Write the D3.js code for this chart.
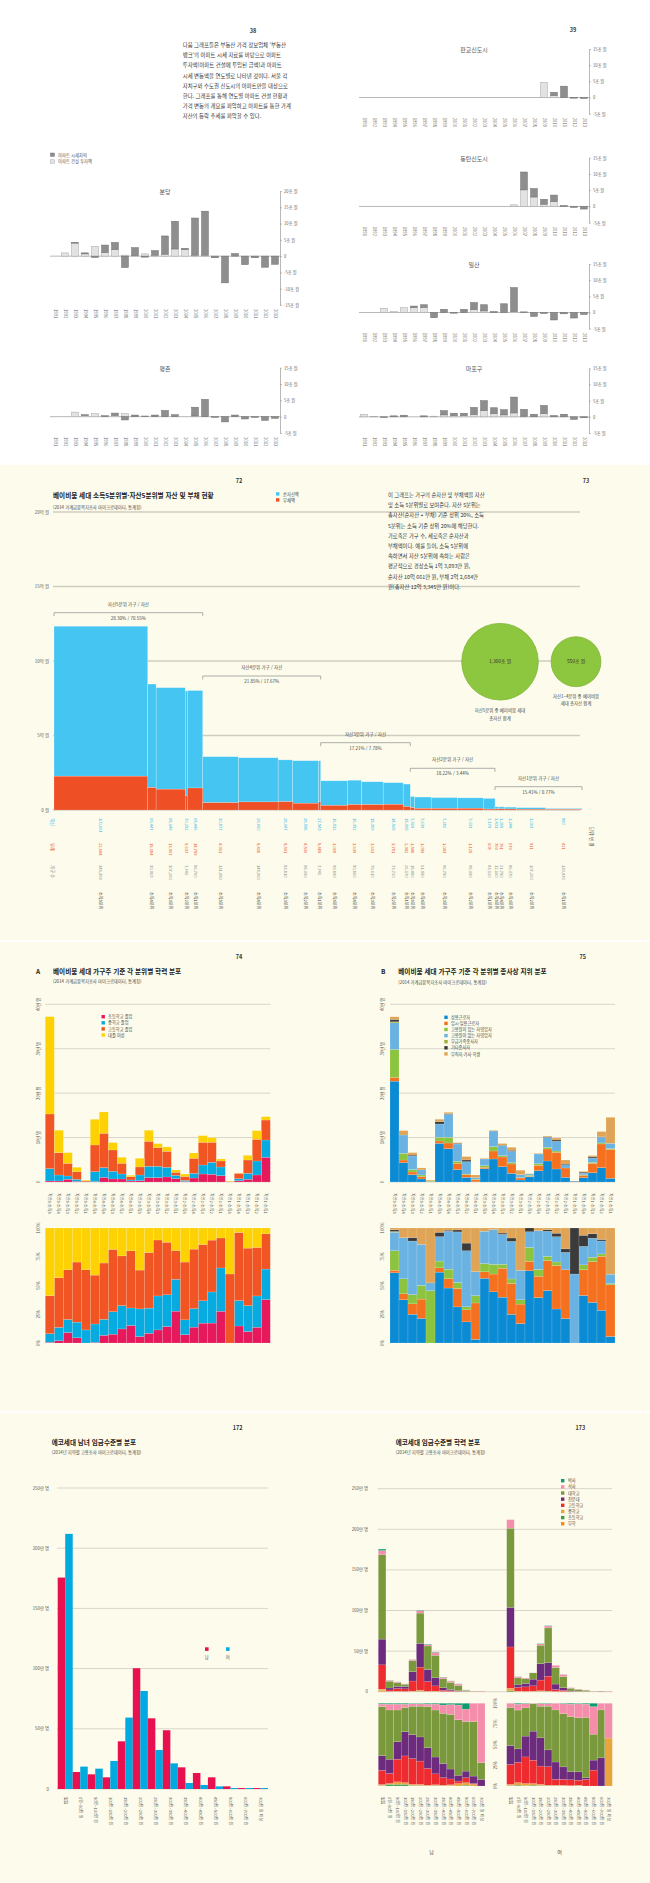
<!DOCTYPE html>
<html lang="ko">
<head>
<meta charset="utf-8">
<title>베이비붐·에코세대 자산 및 소득 차트</title>
<script src="https://cdnjs.cloudflare.com/ajax/libs/d3/7.8.5/d3.min.js"></script>
<style>
  html, body { margin: 0; padding: 0; background: #fff; }
  svg { display: block; }
  text { font-family: "Noto Sans CJK KR", "Noto Sans", sans-serif; }
</style>
</head>
<body>
<svg id="chart" width="650" height="1883" viewBox="0 0 650 1883"></svg>
<script>
// ---------------- data ----------------

// p.38-39 : apartment construction investment / price change by year (조 원)
var years = ["1991","1992","1993","1994","1995","1996","1997","1998","1999","2000","2001","2002",
             "2003","2004","2005","2006","2007","2008","2009","2010","2011","2012","2013"];
var bundangInvest = [0,1.0,4.0,0.7,3.0,1.1,2.0,0.3,0.2,0.7,0.3,0.6,2.2,2.0,0.3,0.3,0,0,0,0,0,0,0];
var bundangGain   = [0,0,0.2,0.3,-0.4,2.3,2.2,-3.5,2.4,-0.3,1.4,5.6,8.5,0.4,11.4,13.5,-0.5,-8.2,0.8,-2.6,-0.5,-3.4,-2.5];
var pyeongchonInvest = [0,0,1.4,0.4,0.9,0,0.4,0.9,0,0,0,0,0,0,0.2,0,0,0,0,0,0,0,0];
var pyeongchonGain   = [0,0,0,0.2,0,0.3,0.7,-1.0,0.5,0.2,0.5,1.9,0.6,0,2.7,5.3,-0.2,-1.6,0.5,-0.7,-0.2,-1.1,-0.5];
var pangyoInvest = [0,0,0,0,0,0,0,0,0,0,0,0,0,0,0,0,0,0,4.7,0.6,0,0,0];
var pangyoGain   = [0,0,0,0,0,0,0,0,0,0,0,0,0,0,0,0,0,0,0,1.0,3.5,-0.2,-0.3];
var dongtanInvest = [0,0,0,0,0,0,0,0,0,0,0,0,0,0,0,0.5,5.1,2.9,0.7,1.5,0,0,0];
var dongtanGain   = [0,0,0,0,0,0,0,0,0,0,0,0,0,0,0,0,5.5,2.6,1.5,2.0,0.3,-0.3,-0.8];
var ilsanInvest = [0,0,1.3,0.3,1.5,1.5,1.6,0,0,0,0,0.9,0.5,0,0,0.3,0,0,0,0,0,0,0];
var ilsanGain   = [0,0,0,0,0,0.5,0.8,-1.6,1.0,-0.2,1.0,2.2,1.9,0.3,2.7,7.4,0.2,-1.2,-0.3,-2.3,-0.4,-1.7,-0.6];
var mapoInvest = [0.8,0.1,0,0,0.1,0,0,0.2,0.6,0.4,0.4,0.7,1.9,1.0,0.6,1.2,0.2,0,1.0,0,0,0,0];
var mapoGain   = [0,0,-0.2,0.3,0.4,0,0.3,0,1.3,0.7,0.7,2.2,3.1,1.8,1.6,4.9,2.1,0.8,2.5,0.4,0.8,-0.8,-0.3];

var introLines = [
  "다음 그래프들은 부동산 가격 정보업체 '부동산",
  "뱅크'의 아파트 시세 자료를 바탕으로 아파트",
  "투자액(아파트 건설에 투입된 금액)과 아파트",
  "시세 변동액을 연도별로 나타낸 것이다. 서울 각",
  "자치구와 수도권 신도시의 아파트만을 대상으로",
  "한다. 그래프를 통해 연도별 아파트 건설 현황과",
  "가격 변동의 개요를 파악하고 아파트를 통한 가계",
  "자산의 등락 추세를 파악할 수 있다."
];

// p.72-73 : assets / debt by asset quintile x income quintile (만 원, 가구)
var wealthGroups = ["자산5분위","자산4분위","자산3분위","자산2분위","자산1분위"];
var groupShareText = ["28.30% / 70.55%","21.85% / 17.67%","17.21% / 7.78%","18.22% / 3.44%","15.41% / 0.77%"];
var incomeQuintile = ["소득5분위","소득4분위","소득3분위","소득2분위","소득1분위",
                      "소득5분위","소득4분위","소득3분위","소득2분위","소득1분위",
                      "소득5분위","소득4분위","소득3분위","소득2분위","소득1분위",
                      "소득5분위","소득4분위","소득3분위","소득2분위","소득1분위",
                      "소득5분위","소득4분위","소득3분위","소득2분위","소득1분위"];
var netAsset = [100661,69447,68149,70252,65446, 30877,29660,28047,28558,27543,
                16532,16352,15369,14565,15065, 7519,7639,7280,7031,7179, 1431,1365,1244,1063,580];
var debt = [22684,15084,13967,9637,14759, 4911,5408,5591,4530,5485,
            3068,3639,3603,3781,2342, 1548,1059,1043,1125,608, 769,751,679,511,421];
var households = [345369,30963,107260,7740,56760, 131950,145960,53810,95090,7740,
                  99890,50860,79610,73720,26170, 15480,61550,96750,95090,43120,
                  12160,21750,46070,107260,133430];
var wealthTicks = [0, 50000, 100000, 150000, 200000];
var wealthTickLabels = ["0 원","5억 원","10억 원","15억 원","20억 원"];
var bubbleValues = [1300, 550];
var bubbleLabels = ["1,300조 원","550조 원"];
var bubbleCaptions = [["자산5분위 중 베이비붐 세대","총자산 합계"],["자산1~4분위 중 베이비붐","세대 총자산 합계"]];
var wealthNote = [
  "이 그래프는 가구의 순자산 및 부채액을 자산",
  "및 소득 5분위별로 보여준다. 자산 5분위는",
  "총자산(순자산 + 부채) 기준 상위 20%, 소득",
  "5분위는 소득 기준 상위 20%에 해당한다.",
  "가로축은 가구 수, 세로축은 순자산과",
  "부채액이다. 예를 들어, 소득 5분위에",
  "속하면서 자산 5분위에 속하는 사람은",
  "평균적으로  경상소득 1억 3,093만 원,",
  "순자산 10억 661만 원, 부채 2억 2,684만",
  "원(총자산 12억 3,345만 원)이다."
];

// p.74-75 : education / employment status of household heads (천 가구)
var quintileCells = ["자산5·소득5","자산5·소득4","자산5·소득3","자산5·소득2","자산5·소득1",
                     "자산4·소득5","자산4·소득4","자산4·소득3","자산4·소득2","자산4·소득1",
                     "자산3·소득5","자산3·소득4","자산3·소득3","자산3·소득2","자산3·소득1",
                     "자산2·소득5","자산2·소득4","자산2·소득3","자산2·소득2","자산2·소득1",
                     "자산1·소득5","자산1·소득4","자산1·소득3","자산1·소득2","자산1·소득1"];
var eduKeys = ["초등학교 졸업","중학교 졸업","고등학교 졸업","대졸 이상"];
var eduElem = [2.3,2.3,6,1.5,0,0.8,10.5,6.8,6.8,2.3,3,9.8,9.8,11.3,7.5,1.3,9,18,17.3,14.3,0,3,6,15.8,55.5];
var eduMid  = [27.8,13.5,7.5,4.5,0.5,22.5,21.8,17.3,11.3,2.3,12.8,25.5,25.5,21.8,7.5,2.3,10.5,20.3,27,19.5,0,4.5,13.5,31.5,39];
var eduHigh = [123,50.3,28.5,17.3,2.3,60,77.3,48,24,7.5,18,56.3,42,36,6.8,9,33.8,51,45,13.5,1.2,12,30,48.8,45];
var eduUniv = [219,50.3,24,9.8,1.6,57.8,48,16.5,13.5,3,19.5,24.8,9,9.8,5.3,5.3,12,15,10.5,4.5,0.8,0.8,10.5,19.5,7.5];

var empKeys = ["상용근로자","임시·일용근로자","고용원이 있는 자영업자","고용원이 없는 자영업자","무급가족종사자","기타종사자","무직자·가사·학생"];
var empRegular = [227,43.5,16.5,6.8,0,87,75,27.8,10.5,0.5,30,51.8,34.5,19.5,4.5,11.5,25.5,47.3,29.3,10.5,0,9.8,21,32.3,8.3];
var empTemp    = [8.3,6,6,5.3,0,5.3,12.8,14.3,6,5,3,18,21.8,21,4.5,1.5,12,27,37.5,21,0,5.3,21,53.3,65.3];
var empOwner   = [63,15,5.3,3.8,2,8.3,12.8,4.5,1.5,1,3.8,9.8,3,3,1,2.2,3.8,3.8,3,0,0,1,2.3,2.3,1.5];
var empSolo    = [60,41.3,30.8,11.3,0.3,30,51.8,39,27.8,3.3,15,35.3,22.5,25.5,6.8,2.5,21.8,22.5,21.8,7.5,1.2,3.8,9.8,12.8,12];
var empFamily  = [2.3,0,0,0,0,0,0,0,0,0,0,0,0,0,0,0,0,0,0,0,0,0,0,0,0];
var empOther   = [5.3,0,2,0,0,5.3,1.5,1.5,3.8,0,0,0,1,2.3,0,0.6,0,1.5,3,1.5,0.8,2.3,2.3,1.5,0];
var empNone    = [6,9.8,5.5,4.5,2.1,5.3,3,1.5,7.5,6,1.5,1.5,3.8,6.8,9.8,0,1.5,1.5,4.5,9,0,1.5,3,11.3,58.5];
var countTicks = [0, 100, 200, 300, 400];
var countTickLabels = ["0","10만 명","20만 명","30만 명","40만 명"];
var pctTicks = [0, 0.25, 0.5, 0.75, 1];
var pctTickLabels = ["0%","25%","50%","75%","100%"];

// p.172-173 : echo generation by wage level (만 명)
var wageCats = ["없음","0원~50만 원","50만~100만 원","100만~150만 원","150만~200만 원","200만~250만 원",
                "250만~300만 원","300만~350만 원","350만~400만 원","400만~450만 원","450만~500만 원",
                "500만~600만 원","600만~700만 원","700만 원 이상"];
var maleCount   = [175.6,14.1,12.2,9.7,39.6,100.3,58.7,48.8,18.0,13.3,9.7,2.2,0.8,0.8];
var femaleCount = [211.9,18.6,16.9,23.3,59.3,81.4,32.4,21.3,5.0,3.3,2.2,0.8,0.8,0.8];
var wageTicks = [0, 50, 100, 150, 200, 250];
var wageTickLabels = ["0","50만 명","100만 명","150만 명","200만 명","250만 명"];
// education share (%) per wage bar, bottom-up: 무학, 초등학교, 중학교, 고등학교, 전문대, 대학교, 석사, 박사
var schoolKeys = ["무학","초등학교","중학교","고등학교","전문대","대학교","석사","박사"];
var maleEduShare = [
  [0.5,0.3,1,17,18,59,3,1], [0,2,1,12,17,59,7,1], [0,2,3,27,21,38,7,1], [0,2,2,32,29,29,4,1],
  [0,0.5,1.5,31,29,34,3,0.5], [0,0.5,1.5,28,29,37,3,0.5], [0,0.5,0.5,20,25,49,3,1], [0,0.5,1,13,20,56,7,1],
  [0,0.5,0.5,9,17,60,10,2], [0,0.5,1,7,12,66,12,1.5], [0,0,3,3,7,67,18,2], [0,1,3,6,8,60,15,7],
  [0,0,2,1,9,66,22,0], [0,0,0,0,8,20,72,0]
];
var femaleEduShare = [
  [0,0.5,1.5,24,23,46,5,0], [0,1,3,24,16,46,7,1], [0,0.5,2.5,32,25,34,5,0.5], [0,1,2,28,35,33,0.5,0],
  [0,0.5,1.5,22,34,38,3,0.5], [0,0.5,0.5,22,20,52,3,0.5], [0,0.5,0.5,7,21,63,8,0], [0,0.5,0.5,7,15,64,12,0.5],
  [0,0,0.5,7,10,66,15,1], [0,0.5,0.5,6,10,65,17,0.5], [0,0,0,8,2,73,16,1], [0,0,0,19,12,31,33,4],
  [0,0,0,0,34,58,8,0], [0,0,58,0,0,0,42,0]
];

// ---------------- drawing ----------------
var svg = d3.select("#chart");
var CREAM = "#fdfcec";

function htext(g, x, y, s, size, fill, anchor, weight) {
  return g.append("text").attr("x", x).attr("y", y)
    .attr("font-size", size).attr("fill", fill || "#444")
    .attr("text-anchor", anchor || "start")
    .attr("font-weight", weight || 400).text(s);
}
function vtext(g, x, y, s, size, fill, anchor, angle) {
  return g.append("text")
    .attr("transform", "translate(" + x + "," + y + ") rotate(" + (angle || 90) + ")")
    .attr("dy", "0.35em").attr("font-size", size).attr("fill", fill || "#555")
    .attr("text-anchor", anchor || "start").text(s);
}

// page backgrounds
svg.append("rect").attr("width", 650).attr("height", 1883).attr("fill", "#fff");
[[465, 940], [942, 1411], [1413, 1883]].forEach(function(b) {
  svg.append("rect").attr("x", 0).attr("y", b[0]).attr("width", 650).attr("height", b[1] - b[0]).attr("fill", CREAM);
});

// ===== p.38-39 =====
var s1 = svg.append("g");
htext(s1, 253, 33, "38", 5.5, "#333", "middle", 700);
htext(s1, 573, 32, "39", 5.5, "#333", "middle", 700);
introLines.forEach(function(l, i) { htext(s1, 182.7, 47 + i * 10.2, l, 5.4, "#333"); });

s1.append("rect").attr("x", 50.5).attr("y", 153).attr("width", 4).attr("height", 3.5)
  .attr("fill", "#8e8e8e").attr("stroke", "#666").attr("stroke-width", 0.4);
htext(s1, 58, 156.6, "아파트 시세차익", 4.3, "#555");
s1.append("rect").attr("x", 50.5).attr("y", 159.8).attr("width", 4).attr("height", 3.5)
  .attr("fill", "#e2e2e2").attr("stroke", "#999").attr("stroke-width", 0.4);
htext(s1, 58, 163.3, "아파트 건설 투자액", 4.3, "#555");

function miniChart(c) {
  var g = svg.append("g");
  var x = d3.scaleBand().domain(years).range([c.x0, c.x1]).paddingInner(0.32).paddingOuter(0.16);
  var y = d3.scaleLinear().domain(c.domain).range([c.bottom, c.top]);
  var rows = years.map(function(yr, i) { return {year: yr, inv: c.inv[i], gain: c.gain[i]}; });

  g.append("line").attr("x1", c.x0).attr("x2", c.x1).attr("y1", y(0)).attr("y2", y(0))
    .attr("stroke", "#9a9a9a").attr("stroke-width", 0.7);

  g.selectAll("rect.inv").data(rows.filter(function(d) { return d.inv > 0; })).join("rect")
    .attr("class", "inv")
    .attr("x", function(d) { return x(d.year); }).attr("width", x.bandwidth())
    .attr("y", function(d) { return y(d.inv); })
    .attr("height", function(d) { return y(0) - y(d.inv); })
    .attr("fill", "#e2e2e2").attr("stroke", "#a5a5a5").attr("stroke-width", 0.5);

  g.selectAll("rect.gain").data(rows.filter(function(d) { return d.gain !== 0; })).join("rect")
    .attr("class", "gain")
    .attr("x", function(d) { return x(d.year); }).attr("width", x.bandwidth())
    .attr("y", function(d) { return d.gain > 0 ? y(d.inv + d.gain) : y(0); })
    .attr("height", function(d) { return d.gain > 0 ? y(d.inv) - y(d.inv + d.gain) : y(d.gain) - y(0); })
    .attr("fill", "#8e8e8e").attr("stroke", "#6c6c6c").attr("stroke-width", 0.5);

  var axis = d3.axisRight(y).tickValues(c.ticks).tickSize(2).tickSizeOuter(0).tickPadding(2)
    .tickFormat(function(d) { return d === 0 ? "0" : d + "조 원"; });
  var ag = g.append("g").attr("transform", "translate(" + c.x1 + ",0)").call(axis)
    .attr("font-family", '"Noto Sans CJK KR", sans-serif');
  ag.select(".domain").attr("stroke", "#8a8a8a").attr("stroke-width", 0.6);
  ag.selectAll(".tick line").attr("stroke", "#8a8a8a").attr("stroke-width", 0.5);
  ag.selectAll(".tick text").attr("font-size", 4.2).attr("fill", "#666");

  g.selectAll("text.yr").data(years).join("text").attr("class", "yr")
    .attr("transform", function(d) { return "translate(" + (x(d) + x.bandwidth() / 2) + "," + (c.bottom + 4) + ") rotate(90)"; })
    .attr("dy", "0.35em").attr("font-size", 4.2).attr("fill", "#666").text(function(d) { return d; });

  htext(g, (c.x0 + c.x1) / 2, c.top + 3, c.title, 6, "#555", "middle");
}

var tBig = [-15, -10, -5, 0, 5, 10, 15, 20], tSmall = [-5, 0, 5, 10, 15];
miniChart({title: "분당", inv: bundangInvest, gain: bundangGain, x0: 50, x1: 280, top: 191, bottom: 305, domain: [-15, 20], ticks: tBig});
miniChart({title: "평촌", inv: pyeongchonInvest, gain: pyeongchonGain, x0: 50, x1: 280, top: 367.7, bottom: 433, domain: [-5, 15], ticks: tSmall});
miniChart({title: "판교신도시", inv: pangyoInvest, gain: pangyoGain, x0: 359, x1: 589, top: 49, bottom: 113.7, domain: [-5, 15], ticks: tSmall});
miniChart({title: "동탄신도시", inv: dongtanInvest, gain: dongtanGain, x0: 359, x1: 589, top: 157.7, bottom: 222.7, domain: [-5, 15], ticks: tSmall});
miniChart({title: "일산", inv: ilsanInvest, gain: ilsanGain, x0: 359, x1: 589, top: 264, bottom: 328.7, domain: [-5, 15], ticks: tSmall});
miniChart({title: "마포구", inv: mapoInvest, gain: mapoGain, x0: 359, x1: 589, top: 368.3, bottom: 433, domain: [-5, 15], ticks: tSmall});

// ===== p.72-73 =====
var s2 = svg.append("g");
htext(s2, 239, 483, "72", 5.5, "#333", "middle", 700);
htext(s2, 586, 483, "73", 5.5, "#333", "middle", 700);
htext(s2, 53, 498, "베이비붐 세대 소득5분위별·자산5분위별 자산 및 부채 현황", 6.6, "#222", "start", 700);
htext(s2, 53, 508.5, "(2014 가계금융복지조사 마이크로데이터, 통계청)", 4.3, "#444");
s2.append("rect").attr("x", 276).attr("y", 492.2).attr("width", 3.4).attr("height", 3.4).attr("fill", "#45c6f2");
htext(s2, 283, 495.6, "순자산액", 4.3, "#444");
s2.append("rect").attr("x", 276).attr("y", 498.2).attr("width", 3.4).attr("height", 3.4).attr("fill", "#ef4f24");
htext(s2, 283, 501.6, "부채액", 4.3, "#444");

var wx = d3.scaleLinear().domain([0, d3.sum(households)]).range([54, 582]);
var wy = d3.scaleLinear().domain([0, 200000]).range([810, 512]);
var cum = Array.from(d3.cumsum(households));
var cols = households.map(function(h, i) {
  return {i: i, start: cum[i] - h, end: cum[i], net: netAsset[i], debt: debt[i], hh: h};
});

s2.selectAll("line.grid").data(wealthTicks).join("line").attr("class", "grid")
  .attr("x1", 53).attr("x2", 580).attr("y1", function(d) { return wy(d); }).attr("y2", function(d) { return wy(d); })
  .attr("stroke", "#cfcdc2").attr("stroke-width", 1.3);
s2.selectAll("text.gl").data(wealthTicks).join("text").attr("class", "gl")
  .attr("x", 49).attr("y", function(d) { return wy(d) + 1.6; }).attr("text-anchor", "end")
  .attr("font-size", 4.4).attr("fill", "#555").text(function(d, i) { return wealthTickLabels[i]; });

s2.selectAll("rect.net").data(cols).join("rect").attr("class", "net")
  .attr("x", function(d) { return wx(d.start); }).attr("width", function(d) { return wx(d.end) - wx(d.start); })
  .attr("y", function(d) { return wy(d.debt + d.net); })
  .attr("height", function(d) { return wy(d.debt) - wy(d.debt + d.net); })
  .attr("fill", "#45c6f2").attr("stroke", "rgba(255,255,255,0.45)").attr("stroke-width", 0.5);
s2.selectAll("rect.debt").data(cols).join("rect").attr("class", "debt")
  .attr("x", function(d) { return wx(d.start); }).attr("width", function(d) { return wx(d.end) - wx(d.start); })
  .attr("y", function(d) { return wy(d.debt); })
  .attr("height", function(d) { return wy(0) - wy(d.debt); })
  .attr("fill", "#ef4f24").attr("stroke", "rgba(255,255,255,0.35)").attr("stroke-width", 0.5);

var bracketY = [612.7, 676, 742.7, 768.3, 786.7];
wealthGroups.forEach(function(name, gi) {
  var a = cols[gi * 5], b = cols[gi * 5 + 4];
  var x0 = wx(a.start), x1 = wx(b.end), by = bracketY[gi];
  s2.append("path").attr("d", "M" + x0 + "," + (by + 3.5) + "V" + by + "H" + x1 + "V" + (by + 3.5))
    .attr("fill", "none").attr("stroke", "#9a9a9a").attr("stroke-width", 0.8);
  htext(s2, (x0 + x1) / 2, by - 7, name + " 가구 / 자산", 4.5, "#444", "middle");
  htext(s2, (x0 + x1) / 2, by + 6.8, groupShareText[gi], 4.5, "#444", "middle");
});

var rb = d3.scaleSqrt().domain([0, 1300]).range([0, 38.3]);
var bubbleX = [500, 576];
bubbleValues.forEach(function(v, i) {
  s2.append("circle").attr("cx", bubbleX[i]).attr("cy", 661.7).attr("r", rb(v))
    .attr("fill", "#8dc63f").attr("stroke", "#7eb536").attr("stroke-width", 0.8);
  htext(s2, bubbleX[i], 663.3, bubbleLabels[i], 4.8, "#333", "middle");
});
htext(s2, 500, 712.3, bubbleCaptions[0][0], 4.4, "#444", "middle");
htext(s2, 500, 719.9, bubbleCaptions[0][1], 4.4, "#444", "middle");
htext(s2, 576, 697.6, bubbleCaptions[1][0], 4.4, "#444", "middle");
htext(s2, 576, 704.9, bubbleCaptions[1][1], 4.4, "#444", "middle");

wealthNote.forEach(function(l, i) { htext(s2, 388, 497 + i * 10.2, l, 5.3, "#333"); });

var fmt = d3.format(",");
function colX(d) { return (wx(d.start) + wx(d.end)) / 2; }
[
  {y: 818, fill: "#2eb5ea", val: function(d) { return fmt(d.net); }},
  {y: 843, fill: "#ee4d24", val: function(d) { return fmt(d.debt); }},
  {y: 865, fill: "#8a8a8a", val: function(d) { return fmt(d.hh); }},
  {y: 892, fill: "#333", val: function(d) { return incomeQuintile[d.i]; }}
].forEach(function(row, ri) {
  s2.selectAll("text.row" + ri).data(cols).join("text").attr("class", "row" + ri)
    .attr("transform", function(d) { return "translate(" + colX(d) + "," + row.y + ") rotate(90)"; })
    .attr("dy", "0.35em").attr("font-size", 4.1).attr("fill", row.fill).text(row.val);
});
vtext(s2, 52.5, 818, "자산", 4.3, "#2eb5ea");
vtext(s2, 52.5, 843, "부채", 4.3, "#ee4d24");
vtext(s2, 52.5, 865, "가구 수", 4.3, "#8a8a8a");
vtext(s2, 592, 827, "단위: 만 원", 4.3, "#555");

// ===== p.74-75 =====
function stackedPanel(c) {
  var g = svg.append("g");
  var rows = quintileCells.map(function(l, i) {
    var r = {label: l};
    c.keys.forEach(function(k, j) { r[k] = c.values[j][i]; });
    return r;
  });
  var x = d3.scaleBand().domain(quintileCells).range([c.x0, c.x1]);
  var y = d3.scaleLinear().domain([0, 400]).range([1182, 1004.3]);
  var yp = d3.scaleLinear().domain([0, 1]).range([1343, 1228]);
  var color = d3.scaleOrdinal().domain(c.keys).range(c.colors);

  g.selectAll("line.grid").data(countTicks).join("line").attr("class", "grid")
    .attr("x1", c.x0).attr("x2", c.x1).attr("y1", function(d) { return y(d); }).attr("y2", function(d) { return y(d); })
    .attr("stroke", "#d8d6cb").attr("stroke-width", 1);
  g.selectAll("text.ct").data(countTicks).join("text").attr("class", "ct")
    .attr("transform", function(d) { return "translate(" + (c.x0 - 7) + "," + y(d) + ") rotate(-90)"; })
    .attr("dy", "0.35em").attr("text-anchor", "middle").attr("font-size", 4.2).attr("fill", "#555")
    .text(function(d, i) { return countTickLabels[i]; });
  g.selectAll("text.pt").data(pctTicks).join("text").attr("class", "pt")
    .attr("transform", function(d) { return "translate(" + (c.x0 - 7) + "," + yp(d) + ") rotate(-90)"; })
    .attr("dy", "0.35em").attr("text-anchor", "middle").attr("font-size", 4.2).attr("fill", "#555")
    .text(function(d, i) { return pctTickLabels[i]; });

  var series = d3.stack().keys(c.keys)(rows);
  var seriesPct = d3.stack().keys(c.keys).offset(d3.stackOffsetExpand)(rows);

  g.selectAll("g.cnt").data(series).join("g").attr("class", "cnt")
    .attr("fill", function(s) { return color(s.key); })
    .selectAll("rect").data(function(s) { return s; }).join("rect")
    .attr("x", function(d) { return x(d.data.label); }).attr("width", x.bandwidth())
    .attr("y", function(d) { return y(d[1]); }).attr("height", function(d) { return y(d[0]) - y(d[1]); })
    .attr("stroke", "rgba(255,255,255,0.4)").attr("stroke-width", 0.35);
  g.selectAll("g.pct").data(seriesPct).join("g").attr("class", "pct")
    .attr("fill", function(s) { return color(s.key); })
    .selectAll("rect").data(function(s) { return s; }).join("rect")
    .attr("x", function(d) { return x(d.data.label); }).attr("width", x.bandwidth())
    .attr("y", function(d) { return yp(d[1]); }).attr("height", function(d) { return yp(d[0]) - yp(d[1]); })
    .attr("stroke", "rgba(255,255,255,0.4)").attr("stroke-width", 0.35);

  g.selectAll("text.xl").data(quintileCells).join("text").attr("class", "xl")
    .attr("transform", function(d) { return "translate(" + (x(d) + x.bandwidth() / 2) + ",1193) rotate(90)"; })
    .attr("dy", "0.35em").attr("font-size", 4.1).attr("fill", "#555").text(function(d) { return d; });

  c.keys.forEach(function(k, i) {
    var ly = c.legendY + i * 6.1;
    g.append("rect").attr("x", c.legendX).attr("y", ly - 1.7).attr("width", 3.4).attr("height", 3.4).attr("fill", color(k));
    htext(g, c.legendX + 6.6, ly + 1.6, k, 4.2, "#444");
  });

  htext(g, c.letterX, c.titleY, c.letter, 6.5, "#222", "start", 700);
  htext(g, c.x0 + c.titleDx, c.titleY, c.title, 6.6, "#222", "start", 700);
  htext(g, c.x0 + c.titleDx, c.titleY + 9.5, "(2014 가계금융복지조사 마이크로데이터, 통계청)", 4.3, "#444");
  htext(g, c.pageX, 958.5, c.page, 5.5, "#333", "middle", 700);
}

stackedPanel({
  letter: "A", letterX: 36, title: "베이비붐 세대 가구주 기준 각 분위별 학력 분포", titleDx: 7.7, titleY: 973.5,
  page: "74", pageX: 239, x0: 45.3, x1: 270.3, legendX: 101.5, legendY: 1016.7,
  keys: eduKeys, values: [eduElem, eduMid, eduHigh, eduUniv],
  colors: ["#e5195c", "#08abdf", "#f05523", "#fdd103"]
});
stackedPanel({
  letter: "B", letterX: 381, title: "베이비붐 세대 가구주 기준 각 분위별 종사상 지위 분포", titleDx: 8.3, titleY: 974,
  page: "75", pageX: 582.7, x0: 390, x1: 615, legendX: 444.3, legendY: 1017.3,
  keys: empKeys, values: [empRegular, empTemp, empOwner, empSolo, empFamily, empOther, empNone],
  colors: ["#0b8bd3", "#f5711f", "#8cc33f", "#6ab2e2", "#a3ae3a", "#3b3b3b", "#dfa456"]
});

// ===== p.172 =====
var s4 = svg.append("g");
htext(s4, 237.7, 1429.5, "172", 5.5, "#333", "middle", 700);
htext(s4, 51.7, 1444.5, "에코세대 남녀 임금수준별 분포", 6.6, "#222", "start", 700);
htext(s4, 51.7, 1453.5, "(2014년 지역별 고용조사 마이크로데이터, 통계청)", 4.3, "#444");

var gx = d3.scaleBand().domain(wageCats).range([57.7, 268]);
var gsub = d3.scaleBand().domain(["남", "여"]).range([0, gx.bandwidth()]);
var gy = d3.scaleLinear().domain([0, 250]).range([1789, 1488]);
var genderColor = {"남": "#e8104f", "여": "#00a9e0"};

s4.selectAll("line.grid").data(wageTicks).join("line").attr("class", "grid")
  .attr("x1", 57).attr("x2", 268).attr("y1", function(d) { return gy(d); }).attr("y2", function(d) { return gy(d); })
  .attr("stroke", "#d8d6cb").attr("stroke-width", 1);
s4.selectAll("text.gl").data(wageTicks).join("text").attr("class", "gl")
  .attr("x", 49).attr("y", function(d) { return gy(d) + 1.5; }).attr("text-anchor", "end")
  .attr("font-size", 4.3).attr("fill", "#555").text(function(d, i) { return wageTickLabels[i]; });

var wageRows = wageCats.map(function(c, i) { return {cat: c, "남": maleCount[i], "여": femaleCount[i]}; });
s4.selectAll("g.pair").data(wageRows).join("g").attr("class", "pair")
  .attr("transform", function(d) { return "translate(" + gx(d.cat) + ",0)"; })
  .selectAll("rect").data(function(d) { return ["남", "여"].map(function(k) { return {k: k, v: d[k]}; }); }).join("rect")
  .attr("x", function(d) { return gsub(d.k); }).attr("width", gsub.bandwidth())
  .attr("y", function(d) { return gy(d.v); }).attr("height", function(d) { return gy(0) - gy(d.v); })
  .attr("fill", function(d) { return genderColor[d.k]; });

s4.selectAll("text.xl").data(wageCats).join("text").attr("class", "xl")
  .attr("transform", function(d) { return "translate(" + (gx(d) + gx.bandwidth() / 2) + ",1797) rotate(90)"; })
  .attr("dy", "0.35em").attr("font-size", 4.1).attr("fill", "#555").text(function(d) { return d; });

s4.append("rect").attr("x", 205).attr("y", 1647.3).attr("width", 3.6).attr("height", 3.6).attr("fill", genderColor["남"]);
s4.append("rect").attr("x", 226).attr("y", 1647.3).attr("width", 3.6).attr("height", 3.6).attr("fill", genderColor["여"]);
htext(s4, 206.8, 1658.5, "남", 4.3, "#555", "middle");
htext(s4, 227.8, 1658.5, "여", 4.3, "#555", "middle");

// ===== p.173 =====
var s5 = svg.append("g");
htext(s5, 580.3, 1430, "173", 5.5, "#333", "middle", 700);
htext(s5, 395.7, 1445, "에코세대 임금수준별 학력 분포", 6.6, "#222", "start", 700);
htext(s5, 395.7, 1454, "(2014년 지역별 고용조사 마이크로데이터, 통계청)", 4.3, "#444");

var schoolColor = d3.scaleOrdinal().domain(schoolKeys)
  .range(["#f28a1e", "#3f9b4b", "#e9a43c", "#ee2b2f", "#6d2b7d", "#7a993c", "#f58eab", "#0b9b6e"]);
var ey = d3.scaleLinear().domain([0, 250]).range([1691.7, 1488.7]);
var eyp = d3.scaleLinear().domain([0, 1]).range([1786, 1703.3]);

s5.selectAll("line.grid").data(wageTicks).join("line").attr("class", "grid")
  .attr("x1", 377.7).attr("x2", 612.3).attr("y1", function(d) { return ey(d); }).attr("y2", function(d) { return ey(d); })
  .attr("stroke", "#d8d6cb").attr("stroke-width", 1);
s5.selectAll("text.gl").data(wageTicks).join("text").attr("class", "gl")
  .attr("x", 368).attr("y", function(d) { return ey(d) + 1.5; }).attr("text-anchor", "end")
  .attr("font-size", 4.3).attr("fill", "#555").text(function(d, i) { return wageTickLabels[i]; });
s5.selectAll("text.pt").data(pctTicks).join("text").attr("class", "pt")
  .attr("transform", function(d) { return "translate(495.7," + eyp(d) + ") rotate(-90)"; })
  .attr("dy", "0.35em").attr("text-anchor", "middle").attr("font-size", 4.2).attr("fill", "#555")
  .text(function(d, i) { return pctTickLabels[i]; });

function eduGroup(totals, shares, x0, x1, name) {
  var x = d3.scaleBand().domain(wageCats).range([x0, x1]);
  var rows = wageCats.map(function(c, i) {
    var r = {cat: c}, s = d3.sum(shares[i]);
    schoolKeys.forEach(function(k, j) { r[k] = totals[i] * shares[i][j] / s; });
    return r;
  });
  var cnt = d3.stack().keys(schoolKeys)(rows);
  var pct = d3.stack().keys(schoolKeys).offset(d3.stackOffsetExpand)(rows);
  var g = s5.append("g");
  [[cnt, ey], [pct, eyp]].forEach(function(p) {
    var yy = p[1];
    g.append("g").selectAll("g").data(p[0]).join("g")
      .attr("fill", function(s) { return schoolColor(s.key); })
      .selectAll("rect").data(function(s) { return s; }).join("rect")
      .attr("x", function(d) { return x(d.data.cat); }).attr("width", x.bandwidth())
      .attr("y", function(d) { return yy(d[1]); }).attr("height", function(d) { return yy(d[0]) - yy(d[1]); })
      .attr("stroke", "rgba(255,255,255,0.35)").attr("stroke-width", 0.35);
  });
  g.selectAll("text.xl").data(wageCats).join("text").attr("class", "xl")
    .attr("transform", function(d) { return "translate(" + (x(d) + x.bandwidth() / 2) + ",1797) rotate(90)"; })
    .attr("dy", "0.35em").attr("font-size", 4.1).attr("fill", "#555").text(function(d) { return d; });
  htext(g, (x0 + x1) / 2, 1854, name, 5, "#444", "middle");
}
eduGroup(maleCount, maleEduShare, 378.3, 485, "남");
eduGroup(femaleCount, femaleEduShare, 506.7, 612.3, "여");

schoolKeys.slice().reverse().forEach(function(k, i) {
  var ly = 1480.7 + i * 6.15;
  s5.append("rect").attr("x", 561).attr("y", ly - 1.7).attr("width", 3.4).attr("height", 3.4).attr("fill", schoolColor(k));
  htext(s5, 568, ly + 1.6, k, 4.2, "#444");
});
</script>
</body>
</html>
